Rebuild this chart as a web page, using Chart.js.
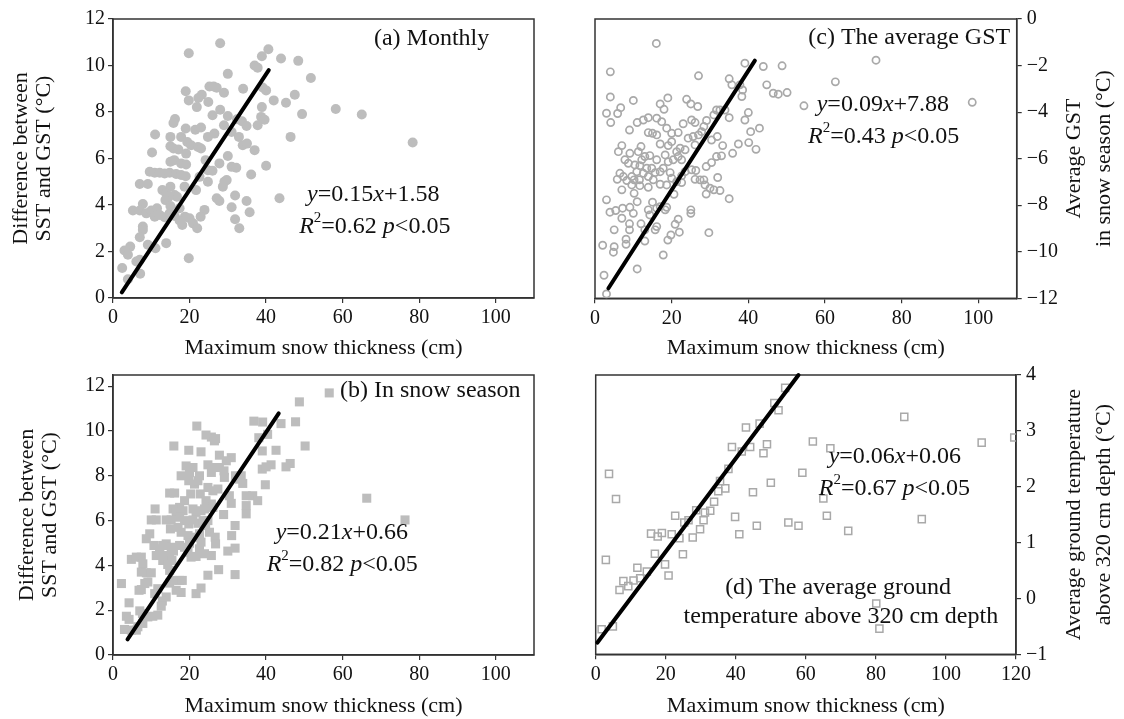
<!DOCTYPE html>
<html>
<head>
<meta charset="utf-8">
<script src="https://cdn.jsdelivr.net/npm/chart.js@4"></script>
<style>
  html, body { margin: 0; padding: 0; background: #fff; }
  #wrap { position: relative; width: 1124px; height: 719px; background: #fff; overflow: hidden; }
  canvas { position: absolute; }
</style>
</head>
<body>
<div id="wrap">
  <canvas id="pa" width="560" height="365" style="left:0;top:0"></canvas>
  <canvas id="pc" width="564" height="365" style="left:560px;top:0"></canvas>
  <canvas id="pb" width="560" height="364" style="left:0;top:355px"></canvas>
  <canvas id="pd" width="564" height="364" style="left:560px;top:355px"></canvas>
</div>
<script>
// ---------------- data ----------------
const xTicks110 = [0, 20, 40, 60, 80, 100];
const xTicks120 = [0, 20, 40, 60, 80, 100, 120];
const yTicksDiff = [0, 2, 4, 6, 8, 10, 12];
const yTicksGST = [-12, -10, -8, -6, -4, -2, 0];
const yTicksGround = [-1, 0, 1, 2, 3, 4];

// (a) Monthly: [snow thickness, SST-GST difference]
const monthly = [
[28.0,10.96],[19.8,10.53],[40.6,10.7],[38.9,10.4],[43.9,10.3],[48.4,10.2],[37.0,10.0],[37.8,9.9],[30.0,9.64],[51.7,9.46],
[19.0,8.89],[25.2,9.1],[26.3,9.1],[27.1,9.04],[29.0,8.83],[34.0,9.0],[39.1,9.05],[40.0,8.93],[23.2,8.74],[22.3,8.6],
[19.8,8.5],[24.9,8.43],[21.9,8.21],[42.0,8.5],[45.2,8.4],[47.5,8.74],[38.9,8.21],[58.2,8.13],[65.0,7.89],[49.4,7.91],
[28.0,8.1],[26.0,7.86],[30.0,7.83],[16.2,7.7],[15.8,7.53],[38.7,7.79],[39.6,7.67],[32.4,7.69],[33.7,7.6],[29.0,7.43],
[34.9,7.4],[37.8,7.43],[19.0,7.29],[21.5,7.24],[23.0,7.33],[31.0,7.14],[11.0,7.03],[46.4,6.93],[15.0,6.93],[17.8,6.93],
[24.8,6.93],[26.5,7.07],[32.9,6.93],[19.4,6.71],[20.4,6.57],[33.9,6.57],[35.0,6.64],[15.0,6.53],[15.8,6.43],[22.2,6.5],
[23.0,6.43],[17.1,6.39],[37.0,6.36],[78.3,6.69],[10.2,6.26],[19.1,6.21],[30.0,6.11],[24.2,5.93],[15.0,5.86],[16.0,5.93],
[17.8,5.79],[19.1,5.74],[27.8,5.79],[40.0,5.69],[31.0,5.64],[32.2,5.6],[24.8,5.5],[26.0,5.47],[9.6,5.43],[10.9,5.39],
[12.2,5.39],[13.5,5.36],[14.8,5.39],[16.5,5.33],[17.8,5.29],[19.0,5.24],[36.1,5.31],[22.6,5.21],[29.1,5.0],[29.7,5.07],
[24.8,5.0],[7.0,4.9],[9.1,4.9],[18.7,4.79],[15.0,4.79],[28.7,4.79],[21.7,4.64],[12.9,4.64],[13.9,4.5],[16.1,4.43],
[16.7,4.36],[14.6,4.36],[13.7,4.21],[27.1,4.29],[27.8,4.17],[31.9,4.41],[34.9,4.17],[43.5,4.29],[7.8,4.04],[15.0,3.96],
[17.4,3.86],[5.2,3.76],[7.0,3.76],[8.7,3.64],[10.0,3.76],[11.5,3.86],[10.9,3.5],[12.2,3.57],[13.5,3.47],[14.8,3.64],
[16.1,3.53],[23.9,3.79],[31.0,3.9],[35.7,3.69],[18.8,3.5],[20.0,3.43],[22.9,3.5],[17.4,3.33],[18.1,3.14],[20.9,3.21],
[22.0,3.0],[31.9,3.39],[33.0,3.0],[7.8,3.07],[7.8,2.93],[7.0,2.61],[9.1,2.29],[11.1,2.14],[13.9,2.36],[4.5,2.21],
[3.0,2.04],[3.9,1.86],[19.8,1.71],[6.1,1.57],[7.0,1.64],[2.4,1.29],[7.1,1.04],[3.9,0.81]
];
const monthlyFitX = [2.3, 40.7];
const monthlyFitY = [0.24, 9.8];

// (b) In snow season
const season = [
[56.5,11.7],[48.7,11.3],[36.8,10.44],[39.1,10.4],[47.7,10.41],[43.9,10.33],[21.9,10.22],[24.3,9.82],[25.7,9.73],[26.5,9.56],
[26.8,9.66],[38.1,9.7],[40.4,9.85],[15.9,9.33],[19.8,9.14],[23.0,9.07],[39.0,9.11],[42.6,9.14],[50.2,9.33],[27.8,8.92],
[30.9,8.81],[29.6,8.67],[24.8,8.49],[26.1,8.37],[25.7,8.15],[19.1,8.44],[20.9,8.37],[20.0,8.15],[27.8,8.37],[29.0,8.22],
[39.0,8.3],[40.0,8.4],[41.3,8.49],[45.2,8.4],[46.3,8.55],[17.8,8.0],[22.6,8.0],[32.0,8.0],[33.0,7.85],[33.9,7.66],
[33.5,8.0],[29.1,7.93],[19.8,7.78],[21.3,7.63],[22.2,7.78],[39.8,7.6],[24.8,7.48],[26.1,7.33],[27.4,7.41],[20.3,7.19],
[14.8,7.23],[16.1,7.23],[22.8,7.19],[30.4,7.11],[34.8,7.11],[36.5,7.11],[37.8,6.89],[18.7,6.89],[17.4,6.59],[18.3,6.44],
[24.3,6.89],[25.7,6.74],[30.9,6.77],[26.1,6.59],[34.8,6.67],[34.8,6.3],[11.0,6.52],[15.7,6.52],[16.5,6.37],[20.9,6.52],
[21.7,6.37],[23.0,6.44],[23.9,6.52],[28.9,6.27],[10.0,6.03],[11.3,6.03],[13.9,6.03],[15.2,6.03],[17.4,6.15],[18.7,6.0],
[19.8,5.85],[20.9,6.03],[22.2,5.88],[23.5,6.0],[24.8,6.0],[24.2,5.78],[31.9,5.78],[15.0,5.63],[17.0,5.7],[17.8,5.48],
[9.6,5.41],[8.7,5.19],[19.6,5.33],[20.9,5.26],[22.6,5.41],[25.2,5.48],[26.7,5.26],[26.8,4.96],[31.0,5.33],[10.7,4.89],
[12.2,4.74],[13.0,4.89],[13.9,4.96],[15.2,4.81],[15.8,4.64],[17.4,4.89],[18.7,4.81],[20.0,4.99],[23.0,5.04],[22.6,4.74],
[12.2,4.55],[11.3,4.44],[13.9,4.44],[14.8,4.37],[15.4,4.22],[19.6,4.59],[20.4,4.37],[21.7,4.4],[23.9,4.52],[25.7,4.44],
[30.0,4.64],[31.9,4.77],[4.8,4.27],[6.1,4.37],[7.4,4.37],[7.8,4.07],[13.0,4.22],[14.3,4.04],[27.6,3.81],[7.4,3.7],
[8.7,3.67],[10.0,3.67],[14.8,3.78],[24.8,3.56],[31.9,3.59],[17.4,3.33],[18.1,3.33],[15.7,3.33],[14.8,3.21],[8.3,3.19],
[9.1,3.26],[2.2,3.19],[23.0,2.99],[7.4,2.92],[6.8,2.89],[11.7,2.96],[10.9,2.74],[16.5,2.89],[17.8,2.79],[21.7,2.74],
[13.9,2.59],[12.9,2.41],[12.6,2.18],[4.2,2.33],[7.0,1.97],[7.7,1.85],[3.5,1.73],[4.2,1.59],[9.1,1.7],[10.4,1.73],
[11.7,1.78],[7.8,1.41],[6.5,1.26],[3.0,1.14],[4.8,1.11],[6.1,1.11],[66.3,7.0],[76.3,6.03]
];
const seasonFitX = [3.8, 43.3];
const seasonFitY = [0.7, 10.79];

// (c) The average GST in snow season
const gst = [
[16,-1.05],[73.3,-1.77],[4,-2.27],[39.1,-1.9],[43.9,-2.04],[48.8,-2.01],[27,-2.44],[35,-2.57],[35.7,-2.83],[37.8,-2.83],
[38.5,-3.05],[38.3,-3.33],[44.8,-2.83],[46.5,-3.19],[47.8,-3.23],[50.1,-3.16],[62.7,-2.7],[98.4,-3.58],[54.5,-3.73],[4,-3.35],
[10,-3.5],[19,-3.39],[17,-3.65],[18,-3.88],[23.9,-3.45],[25,-3.65],[26.8,-3.76],[6.7,-3.81],[5.9,-4.06],[3,-4.05],
[4.1,-4.45],[9,-4.77],[11,-4.45],[12.6,-4.34],[13.9,-4.24],[16.1,-4.26],[17.4,-4.41],[18.7,-4.69],[13.9,-4.88],[15,-4.91],
[16.1,-4.98],[20,-4.91],[21.7,-4.88],[23,-4.5],[25.2,-4.34],[26.1,-4.45],[29.1,-4.36],[28.4,-4.62],[27.8,-4.84],[31.7,-3.91],
[32.6,-3.91],[33.9,-3.91],[31,-4.12],[35,-4.24],[39.1,-4.34],[40,-4.02],[40.6,-4.84],[42.9,-4.69],[37.4,-5.37],[40.1,-5.31],
[42,-5.6],[35.9,-5.77],[33.3,-5.44],[31.9,-5.05],[30.4,-5.2],[24.3,-5.12],[25.6,-5.05],[27,-4.98],[17,-5.37],[19.1,-5.44],
[20,-5.27],[22.2,-5.55],[23.5,-5.62],[21.3,-5.7],[26.1,-5.41],[7,-5.44],[6.1,-5.7],[9.1,-5.77],[12,-5.48],[11.3,-5.7],
[13,-5.91],[14.3,-5.87],[16.1,-6.05],[7.8,-6.05],[8.7,-6.2],[12.2,-6.05],[11.7,-6.3],[18.3,-5.84],[19.1,-6.13],[20.4,-6.05],
[21.7,-5.91],[22.6,-6.05],[17.8,-6.41],[17,-6.56],[13.5,-6.41],[14.8,-6.41],[15.7,-6.6],[10.4,-6.27],[10.9,-6.56],[6.5,-6.63],
[7.4,-6.77],[8.3,-6.94],[5.8,-6.89],[9.6,-6.77],[10.2,-6.91],[11.6,-6.91],[12.6,-6.63],[13.9,-6.77],[15.2,-6.91],[19.6,-6.6],
[20,-6.84],[22.6,-6.74],[23.5,-6.56],[25.2,-6.48],[26.3,-6.51],[26.1,-6.89],[27.4,-6.91],[28.4,-6.91],[29,-6.34],[30.4,-6.17],
[31.7,-5.91],[33,-5.88],[32,-6.81],[21.3,-6.99],[22.6,-7.03],[17,-7.1],[18.7,-7.13],[9.6,-7.13],[11.7,-7.16],[28.7,-7.13],
[30,-7.27],[31,-7.34],[32.6,-7.37],[35,-7.72],[20.6,-7.53],[10.2,-7.49],[7,-7.34],[13.9,-7.23],[29,-7.52],[3,-7.77],
[11,-7.85],[15,-7.87],[3.9,-8.3],[5.4,-8.23],[7.2,-8.13],[9.1,-8.09],[10,-8.35],[7,-8.56],[13.9,-8.2],[14.3,-8.42],
[16.1,-8.13],[17,-8.06],[18.7,-8.09],[18.3,-8.2],[25,-8.2],[25,-8.35],[21.7,-8.6],[20.9,-8.82],[19.8,-9.28],[19,-9.5],
[22,-9.16],[9,-8.8],[9,-9.06],[5,-9.06],[12,-8.8],[13,-9.06],[16.1,-8.92],[15.7,-9.06],[29.7,-9.18],[8.1,-9.46],
[8.1,-9.68],[13,-9.54],[2,-9.72],[5,-9.78],[4.8,-10.02],[17.8,-10.14],[11,-10.74],[2.35,-11.01],[3,-11.81]
];
const gstFitX = [3.5, 41.7];
const gstFitY = [-11.57, -1.79];

// (d) The average ground temperature above 320 cm depth
const ground = [
[54.1,3.77],[51,3.5],[52.2,3.37],[42.9,3.06],[46.8,3.13],[38.9,2.71],[41.7,2.63],[44.1,2.71],[48.9,2.76],[47.9,2.6],
[62,2.81],[67,2.69],[88.1,3.25],[110.2,2.79],[37.9,2.32],[59,2.25],[3.8,2.23],[50,2.07],[35.5,2.1],[37,1.97],
[35,1.92],[44.9,1.9],[65,1.79],[5.8,1.78],[33.8,1.73],[32.7,1.57],[31.2,1.54],[28.7,1.58],[30.8,1.4],[29.8,1.24],
[27.7,1.09],[26.5,1.4],[25.3,1.36],[22.7,1.48],[39.8,1.46],[66,1.48],[93.1,1.42],[46,1.3],[55,1.36],[57.9,1.3],
[41,1.15],[72.1,1.21],[15.8,1.16],[17.7,1.11],[18.9,1.17],[21.7,1.15],[23.9,1.08],[16.9,0.8],[24.9,0.79],[2.9,0.69],
[19.8,0.61],[20.8,0.41],[11.9,0.55],[14.6,0.48],[12.7,0.36],[7.9,0.31],[9.3,0.22],[6.8,0.15],[10.8,0.32],[80.1,-0.09],
[81,-0.54],[1.7,-0.55],[4.9,-0.5],[119.5,2.88]
];
const groundFitX = [0.5, 57.9];
const groundFitY = [-0.79, 4.0];

// ---------------- drawing ----------------
const FAM = "'Liberation Serif', 'Times New Roman', Times, serif";
Chart.defaults.font.family = FAM;
Chart.defaults.color = '#111';

const toPts = arr => arr.map(p => ({ x: p[0], y: p[1] }));
const toLine = (xs, ys) => xs.map((x, i) => ({ x: x, y: ys[i] }));

// rich text annotations, anchored in data coordinates
const NOTES = {
  pa: [
    { x: 98.3, y: 11.17, align: 'right', runs: [['(a) Monthly', '']] },
    { x: 68.0, y: 4.43, align: 'center', runs: [['y', 'i'], ['=0.15', ''], ['x', 'i'], ['+1.58', '']] },
    { x: 68.4, y: 3.06, align: 'center', runs: [['R', 'i'], ['2', 's'], ['=0.62 ', ''], ['p', 'i'], ['<0.05', '']] }
  ],
  pb: [
    { x: 106.5, y: 11.78, align: 'right', runs: [['(b) In snow season', '']] },
    { x: 59.8, y: 5.45, align: 'center', runs: [['y', 'i'], ['=0.21', ''], ['x', 'i'], ['+0.66', '']] },
    { x: 59.9, y: 4.04, align: 'center', runs: [['R', 'i'], ['2', 's'], ['=0.82 ', ''], ['p', 'i'], ['<0.05', '']] }
  ],
  pc: [
    { x: 108.3, y: -0.81, align: 'right', runs: [['(c) The average GST', '']] },
    { x: 75.1, y: -3.69, align: 'center', runs: [['y', 'i'], ['=0.09', ''], ['x', 'i'], ['+7.88', '']] },
    { x: 75.3, y: -5.06, align: 'center', runs: [['R', 'i'], ['2', 's'], ['=0.43 ', ''], ['p', 'i'], ['<0.05', '']] }
  ],
  pd: [
    { x: 85.4, y: 2.54, align: 'center', runs: [['y', 'i'], ['=0.06', ''], ['x', 'i'], ['+0.06', '']] },
    { x: 85.3, y: 1.97, align: 'center', runs: [['R', 'i'], ['2', 's'], ['=0.67 ', ''], ['p', 'i'], ['<0.05', '']] },
    { x: 69.2, y: 0.19, align: 'center', runs: [['(d) The average ground', '']] },
    { x: 70.0, y: -0.33, align: 'center', runs: [['temperature above 320 cm depth', '']] }
  ]
};

// right-hand axis titles (rotated like the left ones)
const SIDE = {
  pc: { lines: ['Average GST', 'in snow season (°C)'], xs: [514, 544] },
  pd: { lines: ['Average ground temperature', 'above 320 cm depth (°C)'], xs: [514, 544] }
};

function drawRuns(ctx, runs, x, y, align, size) {
  const fontFor = st => (st.indexOf('i') >= 0 ? 'italic ' : '') +
    (st.indexOf('s') >= 0 ? Math.round(size * 0.62) : size) + 'px ' + FAM;
  let w = 0;
  const ws = runs.map(r => { ctx.font = fontFor(r[1]); const m = ctx.measureText(r[0]).width; w += m; return m; });
  let cx = align === 'right' ? x - w : (align === 'center' ? x - w / 2 : x);
  ctx.textBaseline = 'middle';
  ctx.textAlign = 'left';
  ctx.fillStyle = '#111';
  runs.forEach((r, i) => {
    ctx.font = fontFor(r[1]);
    ctx.fillText(r[0], cx, r[1].indexOf('s') >= 0 ? y - size * 0.36 : y);
    cx += ws[i];
  });
}

const boxPlugin = {
  id: 'box',
  beforeDatasetsDraw(chart) {
    const { ctx, chartArea: a } = chart;
    ctx.save();
    ctx.strokeStyle = '#333';
    ctx.lineWidth = 1.5;
    ctx.strokeRect(a.left, a.top, a.right - a.left, a.bottom - a.top);
    ctx.restore();
  }
};

const notesPlugin = {
  id: 'notes',
  afterDatasetsDraw(chart) {
    const items = NOTES[chart.canvas.id] || [];
    const ctx = chart.ctx;
    ctx.save();
    items.forEach(it => {
      drawRuns(ctx, it.runs, chart.scales.x.getPixelForValue(it.x), chart.scales.y.getPixelForValue(it.y), it.align, 24);
    });
    ctx.restore();
  }
};

const sidePlugin = {
  id: 'sideTitle',
  afterDraw(chart) {
    const s = SIDE[chart.canvas.id];
    if (!s) return;
    const ctx = chart.ctx, a = chart.chartArea, cy = (a.top + a.bottom) / 2;
    ctx.save();
    ctx.font = '22px ' + FAM;
    ctx.fillStyle = '#111';
    ctx.textAlign = 'center';
    ctx.textBaseline = 'middle';
    s.lines.forEach((t, i) => {
      ctx.save();
      ctx.translate(s.xs[i], cy);
      ctx.rotate(-Math.PI / 2);
      ctx.fillText(t, 0, 0);
      ctx.restore();
    });
    ctx.restore();
  }
};

const minus = v => String(v).replace('-', '\u2212');

function makePanel(id, c) {
  const gridOpt = { display: true, drawOnChartArea: false, drawTicks: true, tickLength: 5, color: '#333', lineWidth: 1.2 };
  const borderOpt = { display: true, color: '#333', width: 1.5 };
  return new Chart(document.getElementById(id), {
    type: 'scatter',
    data: {
      datasets: [
        {
          type: 'line', data: c.fit, borderColor: '#000', borderWidth: 4, borderCapStyle: 'round',
          pointRadius: 0, showLine: true, fill: false, order: 0, clip: false
        },
        {
          data: c.pts, pointStyle: c.style, pointRadius: c.r, pointHoverRadius: c.r,
          backgroundColor: c.fill, borderColor: c.stroke, borderWidth: c.bw, order: 1, clip: c.clip
        }
      ]
    },
    options: {
      responsive: false, animation: false, devicePixelRatio: 1,
      layout: { padding: c.pad },
      events: [],
      plugins: { legend: { display: false }, tooltip: { enabled: false } },
      scales: {
        x: {
          type: 'linear', min: 0, max: c.xmax,
          afterBuildTicks: s => { s.ticks = c.xt.map(v => ({ value: v })); },
          afterFit: s => { s.height = c.xh; s.paddingLeft = 0; s.paddingRight = 0; },
          ticks: { font: { size: 20 }, padding: 3, maxRotation: 0, autoSkip: false, color: '#111' },
          grid: gridOpt, border: borderOpt,
          title: { display: true, text: 'Maximum snow thickness (cm)', font: { size: 22 }, color: '#111',
                   padding: { top: 0, bottom: c.xtp } }
        },
        y: {
          type: 'linear', position: c.ypos, min: c.ymin, max: c.ymax,
          afterBuildTicks: s => { s.ticks = c.yt.map(v => ({ value: v })); },
          afterFit: s => { s.width = c.yw; s.paddingTop = 0; s.paddingBottom = 0; },
          ticks: { font: { size: 20 }, padding: c.ypos === 'left' ? 3 : 5, autoSkip: false, color: '#111', callback: minus },
          grid: gridOpt, border: borderOpt,
          title: c.ytitle ? { display: true, text: c.ytitle, font: { size: 22, lineHeight: 1.05 }, color: '#111',
                              padding: { top: c.ytp, bottom: 0 } } : { display: false }
        }
      }
    },
    plugins: [boxPlugin, notesPlugin, sidePlugin]
  });
}

const diffTitle = ['Difference between', 'SST and GST (°C)'];

makePanel('pa', {
  pts: toPts(monthly), fit: toLine(monthlyFitX, monthlyFitY),
  style: 'circle', r: 5, fill: '#bdbdbd', stroke: '#bdbdbd', bw: 0, clip: false,
  pad: { left: 0, right: 26, top: 19, bottom: 0 },
  xmax: 110, xt: xTicks110, xh: 67, xtp: 4,
  ypos: 'left', ymin: 0, ymax: 12, yt: yTicksDiff, yw: 113, ytitle: diffTitle, ytp: 9.5
});
makePanel('pb', {
  pts: toPts(season), fit: toLine(seasonFitX, seasonFitY),
  style: 'rect', r: 6.4, fill: '#bdbdbd', stroke: '#bdbdbd', bw: 0, clip: false,
  pad: { left: 0, right: 26, top: 20, bottom: 0 },
  xmax: 110, xt: xTicks110, xh: 64, xtp: 0,
  ypos: 'left', ymin: 0, ymax: 12.5, yt: yTicksDiff, yw: 113, ytitle: diffTitle, ytp: 15.5
});
makePanel('pc', {
  pts: toPts(gst), fit: toLine(gstFitX, gstFitY),
  style: 'circle', r: 3.6, fill: 'rgba(0,0,0,0)', stroke: '#a9a9a9', bw: 1.7, clip: false,
  pad: { left: 35, right: 0, top: 19, bottom: 0 },
  xmax: 110, xt: xTicks110, xh: 66.7, xtp: 4,
  ypos: 'right', ymin: -12, ymax: 0, yt: yTicksGST, yw: 107.3, ytitle: null
});
makePanel('pd', {
  pts: toPts(ground), fit: toLine(groundFitX, groundFitY),
  style: 'rect', r: 5, fill: 'rgba(0,0,0,0)', stroke: '#a9a9a9', bw: 1.5, clip: 0,
  pad: { left: 35.7, right: 0, top: 20, bottom: 0 },
  xmax: 120, xt: xTicks120, xh: 64.7, xtp: 0,
  ypos: 'right', ymin: -1, ymax: 4, yt: yTicksGround, yw: 108, ytitle: null
});
</script>
</body>
</html>
